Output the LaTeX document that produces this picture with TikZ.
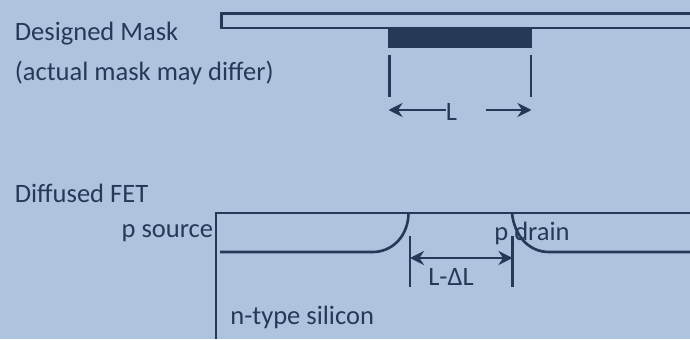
\documentclass[tikz,border=0pt]{standalone}
\usepackage{fontspec}
\setmainfont{Carlito}
\usetikzlibrary{arrows.meta,positioning,calc}
\definecolor{panel}{HTML}{AEC4DE}
\definecolor{ink}{HTML}{243A56}
\tikzset{
  label/.style={font=\fontsize{15.1}{18}\selectfont,text=ink,inner sep=0pt},
  wire/.style={ink,line width=1.5pt},
  dim/.style={ink,line width=1.4pt,{Stealth[length=8pt,width=8pt]}-{Stealth[length=8pt,width=8pt]}},
  dimr/.style={ink,line width=1.4pt,-{Stealth[length=8pt,width=8pt]}}
}
\begin{document}
\begin{tikzpicture}
  \fill[panel] (0,0) rectangle (13.8,6.78);
  \useasboundingbox (0,0) rectangle (13.8,6.78);

  % Top: designed mask
  \node[label,anchor=west] (designed) at (0.29,6.1) {Designed Mask};
  \node[label,anchor=west] (actual) at (0.29,5.32) {(actual mask may differ)};
  \draw[wire] (13.8,6.51) -- (4.43,6.51) -- (4.43,6.22) -- (13.8,6.22);
  \fill[ink] (7.76,5.82) rectangle (10.64,6.24);
  \coordinate (tickat) at (7.79,5.68);
  \coordinate (tickab) at (7.79,4.84);
  \coordinate (tickbt) at (10.62,5.68);
  \coordinate (tickbb) at (10.62,4.84);
  \draw[wire] (tickat) -- (tickab);
  \draw[wire] (tickbt) -- (tickbb);
  \node[label] (len) at (9.03,4.55) {L};
  \coordinate (larrow) at (7.77,4.58);
  \coordinate (rarrow) at (10.63,4.58);
  \coordinate (rstart) at (9.72,4.58);
  \draw[dimr] (len.west |- larrow) -- (larrow);
  \draw[dimr] (rstart) -- (rarrow);

  % Bottom: diffused FET
  \node[label,anchor=west] (fet) at (0.29,2.92) {Diffused FET};
  \node[label,anchor=east] (source) at (4.27,2.11) {p source};
  \node[label,anchor=west] (drain) at (9.88,2.11) {p drain};
  \node[label,anchor=west] (silicon) at (4.6,0.43) {n-type silicon};
  \draw[wire] (13.8,2.52) -- (4.32,2.52) -- (4.32,0);
  \draw[wire] (4.4,1.74) -- (7.45,1.74) .. controls (7.88,1.74) and (8.17,2.1) .. (8.17,2.52);
  \draw[wire] (10.24,2.52) .. controls (10.28,2.1) and (10.55,1.74) .. (10.98,1.74) -- (13.8,1.74);
  \coordinate (tickct) at (8.2,2.06);
  \coordinate (tickcb) at (8.2,1.04);
  \coordinate (tickdt) at (10.25,2.06);
  \coordinate (tickdb) at (10.25,1.04);
  \draw[wire] (tickct) -- (tickcb);
  \draw[wire] (tickdt) -- (tickdb);
  \draw[dim] (tickct |- 0,1.62) -- (tickdt |- 0,1.62);
  \node[label] (gate) at (9.02,1.24) {L-ΔL};
\end{tikzpicture}
\end{document}
